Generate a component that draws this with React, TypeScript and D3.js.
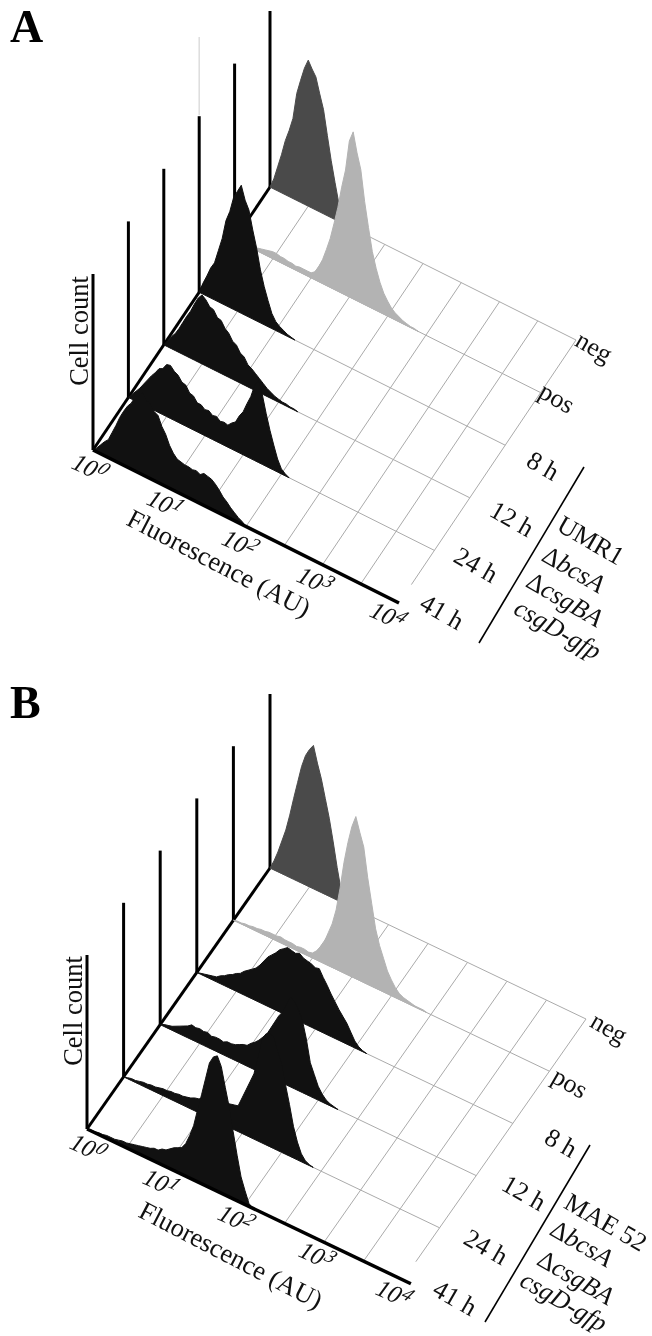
import React, { useEffect, useRef } from 'react';
import * as d3 from 'd3';

// back row first, so the nearer histograms paint over the farther ones
const samples = ['neg', 'pos', '8 h', '12 h', '24 h', '41 h'];
const fills = ['#4a4a4a', '#b3b3b3', '#111111', '#111111', '#111111', '#111111'];
const decades = [1, 10, 100, 1000, 10000];
const gridTicks = d3.range(1, 9).map(i => 10 ** (i / 2));
const binStep = 0.05; // decades per histogram bin

// cell counts per bin, panel A
const aNeg = [0, 10, 24, 38, 54, 66, 80, 107, 122, 136, 146, 139, 133, 118, 104, 80, 57, 37, 18, 8, 3, 1];
const aPos = [0, 1, 1, 2, 2, 3, 3, 4, 5, 6, 7, 7, 6, 6, 5, 5, 4, 5, 5, 5, 5, 8, 15, 24, 36, 49, 66, 84, 106, 125, 156, 167, 148, 133, 103, 79, 57, 42, 30, 21, 15, 10, 7, 5, 3, 2, 1, 1, 0];
const a8h = [0, 11, 20, 30, 37, 51, 65, 85, 96, 112, 120, 128, 115, 107, 89, 73, 53, 38, 26, 15, 9, 6, 4, 2, 1, 0];
const a12h = [0, 6, 12, 17, 24, 32, 40, 47, 56, 64, 69, 66, 61, 60, 54, 53, 47, 44, 38, 36, 30, 28, 22, 20, 17, 14, 11, 8, 6, 4, 3, 2, 2, 1, 1, 0];
const a24h = [0, 5, 10, 15, 21, 27, 33, 38, 44, 46, 52, 53, 49, 47, 42, 41, 35, 34, 29, 29, 26, 27, 24, 25, 22, 23, 22, 26, 29, 37, 43, 53, 62, 75, 82, 70, 53, 38, 25, 13, 5, 2, 0];
const a41h = [0, 4, 9, 14, 18, 27, 36, 46, 54, 61, 66, 74, 77, 82, 76, 75, 69, 67, 58, 52, 43, 37, 33, 32, 31, 31, 30, 31, 29, 32, 31, 30, 27, 23, 18, 15, 11, 8, 5, 3, 0];

// panel B
const bNeg = [0, 9, 20, 33, 46, 63, 82, 100, 118, 131, 139, 145, 129, 115, 97, 79, 57, 33, 12, 4, 1];
const bPos = [0, 1, 1, 2, 2, 3, 3, 4, 4, 5, 5, 5, 6, 5, 5, 5, 4, 5, 5, 4, 5, 9, 15, 22, 33, 44, 60, 84, 112, 134, 152, 164, 150, 137, 108, 84, 60, 45, 34, 23, 16, 10, 6, 4, 3, 2, 1, 1, 1, 0];
const b8h = [0, 1, 2, 3, 4, 5, 8, 10, 13, 15, 18, 20, 24, 27, 30, 33, 38, 44, 50, 54, 58, 63, 66, 69, 68, 67, 69, 66, 65, 64, 62, 63, 56, 50, 43, 37, 31, 26, 21, 14, 7, 3, 1, 0];
const b12h = [0, 2, 3, 4, 6, 8, 10, 12, 15, 14, 15, 14, 15, 13, 14, 14, 13, 15, 15, 16, 18, 20, 21, 25, 28, 32, 37, 42, 50, 58, 66, 72, 82, 91, 88, 82, 73, 56, 34, 24, 14, 8, 4, 2, 1, 0];
const b24h = [0, 1, 2, 2, 3, 4, 4, 5, 5, 6, 7, 7, 8, 8, 9, 9, 10, 11, 13, 14, 16, 17, 19, 20, 21, 22, 23, 24, 25, 26, 36, 46, 56, 66, 84, 104, 112, 115, 113, 100, 90, 70, 52, 32, 18, 8, 3, 1, 0];
const b41h = [0, 1, 1, 2, 2, 3, 3, 3, 4, 5, 5, 6, 7, 8, 9, 10, 11, 13, 13, 16, 17, 20, 23, 25, 27, 33, 43, 55, 73, 90, 108, 126, 134, 137, 128, 109, 91, 68, 46, 26, 14, 3, 0];

const panels = [
  {
    letter: 'A', letterY: 42, origin: [93, 450], back: [270, 187], xVec: [306, 153], rise: 176, axisEnd: 10000,
    counts: [aNeg, aPos, a8h, a12h, a24h, a41h],
    sampleLabels: [[594, 347], [557, 398], [543, 466], [512, 519], [476, 565], [442, 612]],
    tickLabels: [[90, 467], [165, 503], [240, 543], [315, 580], [388, 615]],
    cellCount: [79, 331], fluorescence: [219, 563],
    rule: [[584, 467], [479, 643]],
    strain: 'UMR1', strainLabels: [[591, 540], [574, 569], [565, 599], [558, 629]],
  },
  {
    letter: 'B', letterY: 718, origin: [87, 1129], back: [270, 868], xVec: [316, 151], rise: 174, axisEnd: 10 ** 4.1,
    counts: [bNeg, bPos, b8h, b12h, b24h, b41h],
    sampleLabels: [[609, 1028], [570, 1083], [561, 1143], [524, 1193], [486, 1247], [455, 1298]],
    tickLabels: [[88, 1147], [161, 1182], [236, 1218], [317, 1255], [394, 1293]],
    cellCount: [73, 1011], fluorescence: [231, 1255],
    rule: [[590, 1145], [485, 1322]],
    strain: 'MAE 52', strainLabels: [[606, 1222], [582, 1243], [576, 1277], [564, 1301]],
  },
];

const SERIF = '"Liberation Serif", serif';

function drawPanel(svg: any, p: any) {
  const g = svg.append('g');
  const depth = d3.scalePoint().domain(samples).range([0, 1]);
  const fluor = d3.scaleLog().domain([1, 10000]).range([0, 1]);
  const count = d3.scaleLinear().domain([0, 1]).range([0, p.rise]);

  // floor position of a fluorescence value in a sample's row
  const px = (v: number, s: string) =>
    p.origin[0] + (p.back[0] - p.origin[0]) * (1 - depth(s)!) + p.xVec[0] * fluor(v);
  const py = (v: number, s: string) =>
    p.origin[1] + (p.back[1] - p.origin[1]) * (1 - depth(s)!) + p.xVec[1] * fluor(v);

  const front = samples[samples.length - 1];
  const line = d3.line();

  // floor grid
  gridTicks.forEach((t, i) => {
    const end = i === gridTicks.length - 1 ? 0.93 : 1;
    g.append('path')
      .attr('d', line([
        [px(t, samples[0]), py(t, samples[0])],
        [px(t, samples[0]) + (px(t, front) - px(t, samples[0])) * end, py(t, samples[0]) + (py(t, front) - py(t, samples[0])) * end],
      ]))
      .attr('stroke', '#aaa').attr('stroke-width', 1).attr('fill', 'none');
  });
  samples.slice(0, -1).forEach(s => {
    g.append('path')
      .attr('d', line([[px(1, s), py(1, s)], [px(10000, s), py(10000, s)]]))
      .attr('stroke', '#aaa').attr('stroke-width', 1).attr('fill', 'none');
  });

  // depth axis and the count spikes
  g.append('path')
    .attr('d', line([[px(1, samples[0]), py(1, samples[0])], [px(1, front), py(1, front)]]))
    .attr('stroke', '#000').attr('stroke-width', 3).attr('fill', 'none');
  samples.forEach(s => {
    if (p.letter === 'A' && s === '8 h') {
      // the faint upper part of this spike in the scan
      g.append('path')
        .attr('d', line([[px(1, s), py(1, s) - p.rise - 1], [px(1, s), 37]]))
        .attr('stroke', '#ddd').attr('stroke-width', 1.5);
    }
    g.append('path')
      .attr('d', line([[px(1, s), py(1, s)], [px(1, s), py(1, s) - p.rise]]))
      .attr('stroke', '#000').attr('stroke-width', 3).attr('fill', 'none');
  });

  // histograms, back to front
  samples.forEach((s, i) => {
    const values: number[] = p.counts[i];
    const area = d3.area<number>()
      .x((_, k) => px(10 ** (k * binStep), s))
      .y0((_, k) => py(10 ** (k * binStep), s))
      .y1((d, k) => py(10 ** (k * binStep), s) - count(d / 176));
    g.append('path')
      .attr('d', area(values))
      .attr('fill', fills[i])
      .attr('stroke', fills[i])
      .attr('stroke-width', 1)
      .attr('stroke-linejoin', 'round');
  });

  // front axis
  g.append('path')
    .attr('d', line([[px(1, front), py(1, front)], [px(p.axisEnd, front), py(p.axisEnd, front)]]))
    .attr('stroke', '#000').attr('stroke-width', 3.5).attr('fill', 'none');

  const text = (str: string, x: number, y: number, rot: number, size: number) =>
    g.append('text')
      .attr('transform', `translate(${x},${y}) rotate(${rot})`)
      .attr('text-anchor', 'middle')
      .attr('dominant-baseline', 'central')
      .attr('font-family', SERIF)
      .attr('font-size', size)
      .attr('fill', '#111')
      .text(str);

  g.append('text')
    .attr('x', 10).attr('y', p.letterY)
    .attr('font-family', SERIF).attr('font-weight', 'bold').attr('font-size', 46)
    .attr('fill', '#000')
    .text(p.letter);

  text('Cell count', p.cellCount[0], p.cellCount[1], -90, 26.5);
  text('Fluorescence (AU)', p.fluorescence[0], p.fluorescence[1], 27.5, 26.5);

  decades.forEach((d, i) => {
    const t = g.append('text')
      .attr('transform', `translate(${p.tickLabels[i][0]},${p.tickLabels[i][1]}) rotate(24) skewX(-12)`)
      .attr('text-anchor', 'middle')
      .attr('dominant-baseline', 'central')
      .attr('font-family', SERIF)
      .attr('font-size', 25)
      .attr('fill', '#111');
    t.append('tspan').text('10');
    t.append('tspan').attr('dy', -5).attr('font-size', 19).attr('font-style', 'italic').text(String(Math.round(Math.log10(d))));
  });

  samples.forEach((s, i) => {
    text(s, p.sampleLabels[i][0], p.sampleLabels[i][1], 30, 26);
  });

  g.append('path')
    .attr('d', line(p.rule))
    .attr('stroke', '#000').attr('stroke-width', 1.6).attr('fill', 'none');

  // strain genotype block
  const genotype = [
    [[p.strain, false]],
    [['\u0394', false], ['bcsA', true]],
    [['\u0394', false], ['csgBA', true]],
    [['csgD-gfp', true]],
  ];
  genotype.forEach((parts: any[], i) => {
    const t = text('', p.strainLabels[i][0], p.strainLabels[i][1], 30, 26);
    parts.forEach(([str, italic]) => {
      t.append('tspan').attr('font-style', italic ? 'italic' : 'normal').text(str);
    });
  });
}

export default function App() {
  const ref = useRef<SVGSVGElement>(null);

  useEffect(() => {
    const svg = d3.select(ref.current);
    svg.selectAll('*').remove();
    panels.forEach(p => drawPanel(svg, p));
  }, []);

  return (
    <svg
      ref={ref}
      width={652}
      height={1336}
      style={{ position: 'absolute', left: 0, top: 0, background: '#fff', display: 'block', filter: 'blur(0.4px)' }}
    />
  );
}
